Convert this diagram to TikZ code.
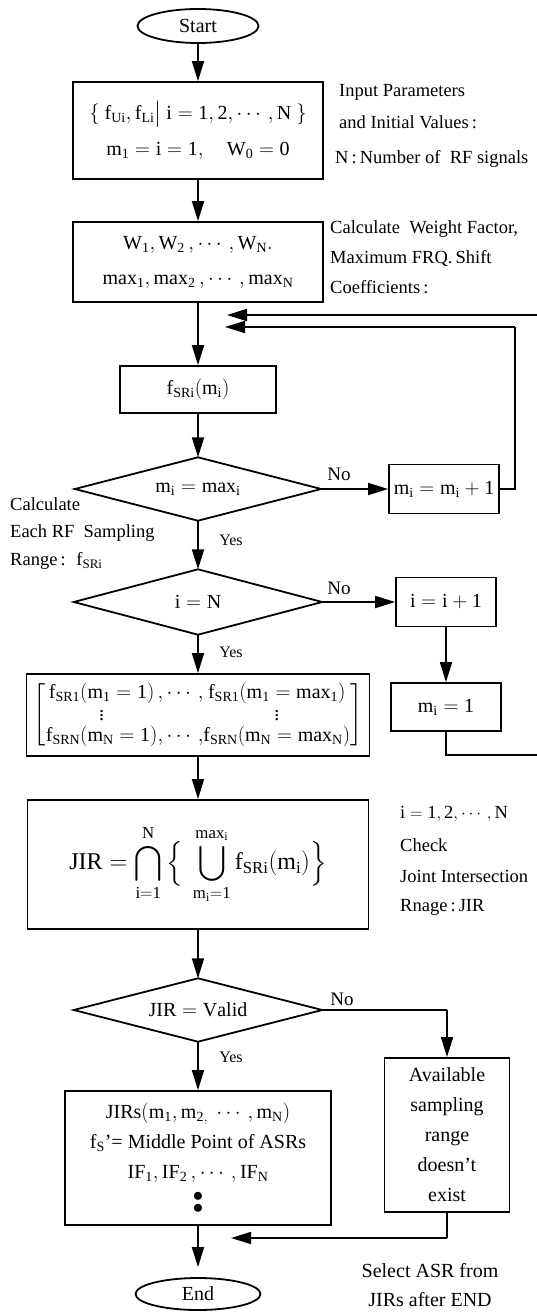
\documentclass[tikz,border=0pt]{standalone}
\usepackage{amsmath}
\usepackage{fontspec}
\setmainfont{Liberation Serif}
\usetikzlibrary{arrows.meta,shapes.geometric}
\newcommand\boxfont{\fontsize{20}{30}\selectfont}
\newcommand\labfont{\fontsize{18.5}{22}\selectfont}
\newcommand\jirfont{\fontsize{24}{30}\selectfont}
\tikzset{
  every node/.style={inner sep=0pt},
  ln/.style={line width=1.8pt},
  arr/.style={ln, -{Triangle[length=20pt,width=12pt]}},
  box/.style={draw, ln, rectangle, align=center, font=\boxfont},
  term/.style={draw, ln, ellipse, font=\boxfont},
  dia/.style={rectangle, font=\boxfont},
  lab/.style={font=\labfont, anchor=west},
  nolab/.style={font=\fontsize{19}{22}\selectfont},
  yeslab/.style={font=\fontsize{16}{20}\selectfont},
}
\begin{document}
\begin{tikzpicture}[x=1pt,y=-1pt]
\useasboundingbox (0,0) rectangle (537,1313);

% main column
\node[term, minimum width=121pt, minimum height=34pt] (start) at (198,26) {Start};
\node[box, minimum width=250pt, minimum height=97pt] (b1) at (198,130.5)
  {$\rm \{\ f_{Ui}, f_{Li}\big|\ i = 1,2,\cdots,N\ \}$\\[6pt]$\rm m_1 = i = 1,\quad W_0 = 0$};
\node[box, minimum width=250pt, minimum height=80pt] (b2) at (198,262)
  {$\rm W_1, W_2\,, \cdots, W_N.$\\[5pt]$\rm max_1, max_2\,, \cdots, max_N$};
\node[box, minimum width=156pt, minimum height=47pt] (b3) at (198,389.5) {$\rm f_{SRi}(m_i)$};
\node[dia, minimum width=246pt, minimum height=63pt] (d1) at (198,489) {$\rm m_i = max_i$};
\node[box, minimum width=110pt, minimum height=49pt] (mplus) at (444,489) {$\rm m_i = m_i + 1$};
\node[dia, minimum width=248pt, minimum height=65pt] (d2) at (198,602) {$\rm i = N$};
\node[box, minimum width=100pt, minimum height=49pt] (iplus) at (446,602) {$\rm i = i + 1$};
\node[box, minimum width=110pt, minimum height=48pt] (mone) at (446,707) {$\rm m_i = 1$};
\node[box, minimum width=343pt, minimum height=82pt] (mat) at (198,715)
  {$\arraycolsep=0pt\def\arraystretch{0.66}\left[\begin{array}{ccc}
   \rm f_{SR1}(m_1 = 1) & \rm ,\cdots, & \rm f_{SR1}(m_1 = max_1)\\
   \vdots & & \vdots\\
   \rm f_{SRN}(m_N = 1) & \rm ,\cdots, & \rm f_{SRN}(m_N = max_N)
   \end{array}\right]$};
\node[box, minimum width=341pt, minimum height=129pt, font=\jirfont] (jir) at (198,864.5)
  {$\displaystyle\rm JIR = \bigcap_{i=1}^{N}\Big\{\ \bigcup_{m_i=1}^{max_i} f_{SRi}(m_i)\Big\}$};
\node[dia, minimum width=248pt, minimum height=63pt] (d3) at (198,1010) {$\rm JIR = Valid$};
\node[box, minimum width=125pt, minimum height=154pt] (avail) at (447,1135)
  {Available\\sampling\\range\\doesn't\\exist};
\node[box, minimum width=266pt, minimum height=134pt] (jirs) at (198,1158)
  {$\rm JIRs(m_1, m_{2,}\ \cdots, m_N)$\\
   $\rm f_S$'= Middle Point of ASRs\\
   $\rm IF_1, IF_2\,, \cdots, IF_N$\\
   $\vcenter{\offinterlineskip\hbox{$\bullet$}\kern3pt\hbox{$\bullet$}}$};
\node[term, minimum width=125pt, minimum height=32pt] (end) at (198,1294) {End};

% diamonds
\foreach \d in {d1,d2,d3}
  \draw[ln] (\d.north) -- (\d.east) -- (\d.south) -- (\d.west) -- cycle;

% helper coordinates
\coordinate (fbA) at (227,315);
\coordinate (fbB) at (225,327);
\coordinate (mpR) at (515,489);
\coordinate (mpT) at (515,327);
\coordinate (moB) at (446,755);
\coordinate (moR) at (545,755);
\coordinate (moT) at (545,315);
\coordinate (d3R) at (447,1010);
\coordinate (avB) at (447,1238);
\coordinate (avL) at (231,1238);

% connectors
\draw[arr] (start) -- (b1);
\draw[arr] (b1) -- (b2);
\draw[arr] (b2) -- (b3);
\draw[arr] (b3) -- (d1.north);
\draw[arr] (d1.east) -- (mplus.west);
\draw[ln] (mplus.east) -- (mpR) -- (mpT);
\draw[arr] (mpT) -- (fbB);
\draw[arr] (d1.south) -- (d2.north);
\draw[arr] (d2.east) -- (iplus.west);
\draw[arr] (iplus) -- (mone);
\draw[ln] (mone.south) -- (moB) -- (moR) -- (moT);
\draw[arr] (moT) -- (fbA);
\draw[arr] (d2.south) -- (mat.north);
\draw[arr] (mat) -- (jir);
\draw[arr] (jir.south) -- (d3.north);
\draw[ln] (d3.east) -- (d3R);
\draw[arr] (d3R) -- (avail.north);
\draw[arr] (d3.south) -- (jirs.north);
\draw[arr, shorten >=10pt] (jirs.south) -- (end.north);
\draw[ln] (avail.south) -- (avB);
\draw[arr] (avB) -- (avL);

% yes / no labels
\node[nolab] (no1) at (339,474) {No};
\node[nolab] (no2) at (339,588) {No};
\node[nolab] (no3) at (342,999) {No};
\node[yeslab] (yes1) at (231,540) {Yes};
\node[yeslab] (yes2) at (231,652) {Yes};
\node[yeslab] (yes3) at (231,1057) {Yes};

% side labels
\node[lab] (l1) at (339,92) {Input Parameters};
\node[lab] (l2) at (339,122) {and Initial Values\,:};
\node[lab] (l3) at (335,159) {N\,:\,Number of~ RF signals};
\node[lab] (l4) at (330,229) {Calculate~ Weight Factor,};
\node[lab] (l5) at (330,258) {Maximum FRQ.\,Shift};
\node[lab] (l6) at (330,287) {Coefficients\,:};
\node[lab] (l7) at (10,504) {Calculate};
\node[lab] (l8) at (10,533) {Each RF~ Sampling};
\node[lab] (l9) at (10,561) {Range\,:~ $\rm f_{SRi}$};
\node[lab] (l10) at (400,814) {$\rm i = 1,2,\cdots,N$};
\node[lab] (l11) at (400,845) {Check};
\node[lab] (l12) at (400,876) {Joint Intersection};
\node[lab] (l13) at (400,907) {Rnage\,:\,JIR};
\node[font=\fontsize{20}{24}\selectfont] (l14) at (430,1271) {Select ASR from};
\node[font=\fontsize{20}{24}\selectfont] (l15) at (430,1300) {JIRs after END};
\end{tikzpicture}
\end{document}
